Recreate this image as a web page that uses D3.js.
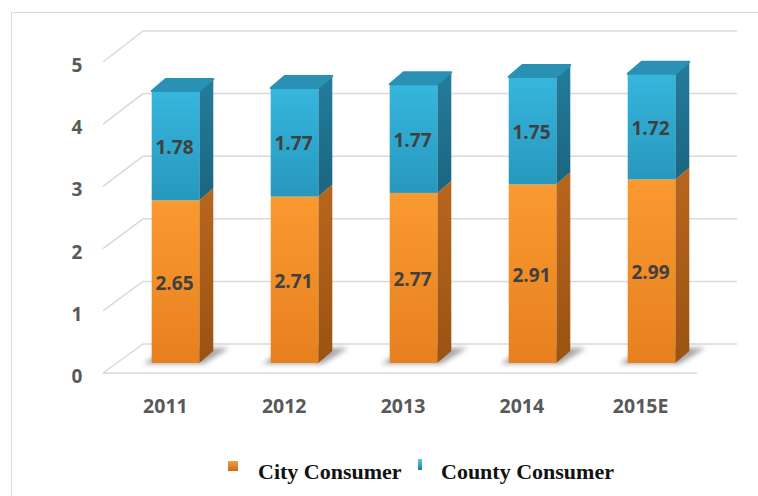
<!DOCTYPE html>
<html>
<head>
<meta charset="utf-8">
<script src="https://cdn.jsdelivr.net/npm/d3@7"></script>
<style>
  html, body { margin: 0; padding: 0; background: #fff; }
  svg { display: block; }
</style>
</head>
<body>
<svg id="chart" width="758" height="496"></svg>
<script>
const categories = ["2011", "2012", "2013", "2014", "2015E"];
const cityValues = [2.65, 2.71, 2.77, 2.91, 2.99];
const countyValues = [1.78, 1.77, 1.77, 1.75, 1.72];
const yTicks = [0, 1, 2, 3, 4, 5];
const seriesNames = ["City Consumer", "County Consumer"];

const svg = d3.select("#chart");
const defs = svg.append("defs");

function linGrad(id, stops, x2, y2) {
  const g = defs.append("linearGradient").attr("id", id)
    .attr("x1", 0).attr("y1", 0).attr("x2", x2).attr("y2", y2);
  stops.forEach(s => g.append("stop").attr("offset", s[0]).attr("stop-color", s[1]));
}
linGrad("orFront", [[0, "#F99A30"], [1, "#E7801F"]], 0, 1);
linGrad("orSide", [[0, "#B8661E"], [1, "#9A5312"]], 0, 1);
linGrad("blFront", [[0, "#36B6DE"], [1, "#2898BD"]], 0, 1);
linGrad("blSide", [[0, "#237D9B"], [1, "#1B6580"]], 0, 1);
linGrad("legOr", [[0, "#F3A040"], [1, "#C86A18"]], 0, 1);
linGrad("legBl", [[0, "#5CC8E8"], [1, "#1E7FA0"]], 0, 1);
defs.append("filter").attr("id", "blur").attr("x", "-50%").attr("y", "-50%").attr("width", "200%").attr("height", "200%")
  .append("feGaussianBlur").attr("stdDeviation", 2.5);

// chart border
svg.append("path").attr("d", "M11.5,496 L11.5,12.5 L758,12.5")
  .attr("fill", "none").attr("stroke", "#d9d9d9").attr("stroke-width", 1);

// scales
const yBack = d3.scaleLinear().domain([0, 5]).range([344, 31]);
const yFront = d3.scaleLinear().domain([0, 5]).range([373, 62]);
const yBar = d3.scaleLinear().domain([0, 5]).range([363, 56]);
const xBand = d3.scaleBand().domain(categories).range([116, 711]).paddingInner(0.6).paddingOuter(0.3);
const xLabel = d3.scaleBand().domain(categories).range([103, 697]).padding(0);

const backL = 143, backR = 737, frontL = 103, frontR = 697;
const grid = svg.append("g").attr("stroke", "#d9d9d9").attr("stroke-width", 1.5).attr("fill", "none");
yTicks.forEach(v => {
  grid.append("line").attr("x1", backL).attr("x2", backR).attr("y1", yBack(v)).attr("y2", yBack(v));
  grid.append("line").attr("x1", frontL).attr("x2", backL).attr("y1", yFront(v)).attr("y2", yBack(v));
});
grid.append("line").attr("x1", frontL).attr("x2", frontR).attr("y1", yFront(0)).attr("y2", yFront(0));

// y tick labels
svg.append("g").selectAll("text").data(yTicks).join("text")
  .attr("x", 77).attr("y", d => yFront(d) + 3)
  .attr("text-anchor", "middle").attr("dominant-baseline", "central")
  .attr("font-family", "'Open Sans', sans-serif").attr("font-weight", "bold")
  .attr("font-size", 19).attr("fill", "#595959")
  .text(d => d);

// bars
const dx = 14, dy = -12;
const bw = xBand.bandwidth();
const barsG = svg.append("g");
categories.forEach((c, i) => {
  const x0 = xBand(c);
  const x1 = x0 + bw;
  const g = barsG.append("g");
  g.append("polygon")
    .attr("points", [[x0 - 8, yBar(0) + 1], [x1 + 4, yBar(0) + 1], [x1 + dx + 16, yBar(0) + dy - 3], [x0 + dx, yBar(0) + dy - 3]].map(p => p.join(",")).join(" "))
    .attr("fill", "#8a8a8a").attr("opacity", 0.75).attr("filter", "url(#blur)");
  const segs = [
    { lo: 0, hi: cityValues[i], front: "url(#orFront)", side: "url(#orSide)", top: "#D8862A" },
    { lo: cityValues[i], hi: cityValues[i] + countyValues[i], front: "url(#blFront)", side: "url(#blSide)", top: "#2A91B4" }
  ];
  segs.forEach((s, k) => {
    const yt = yBar(s.hi), yb = yBar(s.lo);
    g.append("polygon")
      .attr("points", [[x1, yb], [x1 + dx, yb + dy], [x1 + dx, yt + dy], [x1, yt]].map(p => p.join(",")).join(" "))
      .attr("fill", s.side);
    g.append("rect").attr("x", x0).attr("y", yt).attr("width", bw).attr("height", yb - yt).attr("fill", s.front);
    if (k === 1) {
      g.append("polygon")
        .attr("points", [[x0, yt], [x0 + dx, yt + dy], [x1 + dx, yt + dy], [x1, yt]].map(p => p.join(",")).join(" "))
        .attr("fill", s.top).attr("stroke", s.top).attr("stroke-linejoin", "round").attr("stroke-width", 2);
    }
  });
  const lab = [[cityValues[i], (yBar(0) + yBar(cityValues[i])) / 2],
               [countyValues[i], (yBar(cityValues[i]) + yBar(cityValues[i] + countyValues[i])) / 2]];
  lab.forEach(([v, y]) => {
    g.append("text").attr("x", x0 + bw / 2 - 1).attr("y", y + 1)
      .attr("text-anchor", "middle").attr("dominant-baseline", "central")
      .attr("font-family", "'Open Sans', sans-serif").attr("font-weight", "bold")
      .attr("font-size", 19).attr("fill", "#404040")
      .text(v.toFixed(2));
  });
});

// category labels
svg.append("g").selectAll("text").data(categories).join("text")
  .attr("x", d => xLabel(d) + xLabel.bandwidth() / 2 + 3)
  .attr("y", 405)
  .attr("text-anchor", "middle").attr("dominant-baseline", "central")
  .attr("font-family", "'Open Sans', sans-serif").attr("font-weight", "bold")
  .attr("font-size", 19.5).attr("fill", "#595959")
  .text(d => d);

// legend
const leg = svg.append("g");
leg.append("rect").attr("x", 228).attr("y", 461).attr("width", 10).attr("height", 10).attr("fill", "url(#legOr)");
leg.append("text").attr("x", 258).attr("y", 479).text(seriesNames[0])
  .attr("font-family", "'Liberation Serif', 'Times New Roman', serif").attr("font-weight", "bold")
  .attr("font-size", 22).attr("fill", "#111");
leg.append("rect").attr("x", 418).attr("y", 459).attr("width", 4).attr("height", 11).attr("fill", "url(#legBl)");
leg.append("text").attr("x", 441).attr("y", 479).text(seriesNames[1])
  .attr("font-family", "'Liberation Serif', 'Times New Roman', serif").attr("font-weight", "bold")
  .attr("font-size", 22).attr("fill", "#111");
</script>
</body>
</html>
